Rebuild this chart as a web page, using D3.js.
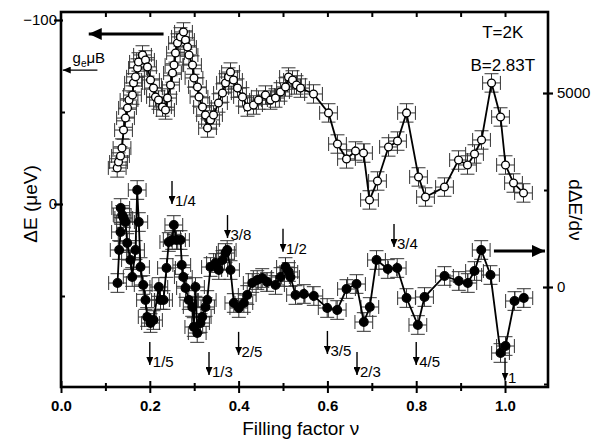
<!DOCTYPE html>
<html>
<head>
<meta charset="utf-8">
<script src="https://cdn.jsdelivr.net/npm/d3@7/dist/d3.min.js"></script>
<style>
  body { margin: 0; background: #fff; }
  svg { font-family: "Liberation Sans", Arial, Helvetica, sans-serif; }
</style>
</head>
<body>
<div id="chart"></div>
<script>
// open circles: energy gap ΔE (left axis, μeV)
const gapNu = [0.1266, 0.1295, 0.134, 0.1374, 0.1408, 0.1453, 0.1498, 0.1532, 0.161, 0.1633,
  0.1678, 0.1723, 0.1745, 0.1836, 0.1903, 0.1948, 0.2016, 0.2083, 0.2128, 0.2196,
  0.2286, 0.2354, 0.2399, 0.2466, 0.2511, 0.2545, 0.2579, 0.2624, 0.2691, 0.2759,
  0.2804, 0.2849, 0.2883, 0.2962, 0.2995, 0.3074, 0.3108, 0.3187, 0.3255, 0.33,
  0.3367, 0.3435, 0.3547, 0.3637, 0.3705, 0.3773, 0.3818, 0.3885, 0.3975, 0.4088,
  0.42, 0.4336, 0.4448, 0.4606, 0.4718, 0.4831, 0.4944, 0.5056, 0.5124, 0.5214,
  0.5304, 0.5394, 0.5687, 0.6025, 0.6227, 0.643, 0.6633, 0.6813, 0.6948, 0.7128,
  0.7376, 0.7579, 0.7782, 0.8052, 0.8209, 0.8637, 0.8953, 0.9155, 0.9313, 0.9471,
  0.9696, 0.9899, 1.0011, 1.0191, 1.0416];
const gapDE = [-19.6, -22.8, -26.1, -30.4, -40.2, -46.7, -52.2, -56.5, -59.2, -65.8,
  -69.1, -73.9, -77.2, -81.0, -78.3, -74.5, -67.4, -63.0, -58.2, -56.5,
  -52.7, -51.1, -57.6, -64.7, -71.2, -75.5, -82.1, -87.5, -90.8, -93.5,
  -89.1, -85.3, -81.0, -75.5, -68.5, -63.6, -58.2, -52.7, -48.4, -41.3,
  -45.7, -48.4, -54.9, -60.3, -65.8, -69.0, -71.7, -67.4, -63.0, -58.2,
  -52.7, -53.8, -56.5, -59.2, -56.5, -57.6, -60.9, -63.6, -69.0, -67.4,
  -64.7, -63.0, -59.8, -49.5, -32.6, -24.5, -28.8, -27.7, -2.2, -12.5,
  -31.0, -34.2, -49.5, -14.7, -3.8, -9.2, -23.9, -21.2, -27.2, -34.8,
  -65.8, -47.3, -21.2, -11.4, -6.0];

// filled circles: derivative dΔE/dν (right axis)
const slopeNu = [0.1273, 0.131, 0.134, 0.1345, 0.1378, 0.1414, 0.1453, 0.1491, 0.1565, 0.1604,
  0.1678, 0.1716, 0.1752, 0.1791, 0.1851, 0.1903, 0.1941, 0.2016, 0.2083, 0.2203,
  0.2241, 0.2309, 0.2376, 0.2428, 0.2505, 0.2541, 0.2601, 0.2691, 0.272, 0.2755,
  0.2804, 0.2878, 0.2955, 0.2991, 0.3029, 0.3068, 0.3142, 0.318, 0.3255, 0.3293,
  0.3367, 0.348, 0.3554, 0.3637, 0.3705, 0.3743, 0.3818, 0.3893, 0.4005, 0.4118,
  0.4194, 0.4307, 0.4419, 0.4532, 0.4644, 0.4831, 0.4944, 0.5056, 0.5131, 0.5169,
  0.5282, 0.5469, 0.5694, 0.5995, 0.6221, 0.643, 0.6655, 0.682, 0.6955, 0.7106,
  0.736, 0.7572, 0.7782, 0.8037, 0.8187, 0.8637, 0.8959, 0.9162, 0.9313, 0.9464,
  0.9673, 0.9899, 1.0011, 1.0214, 1.0424];
const slopeVal = [103, 954, 1418, 2036, 1856, 1778, 1675, 1134, 696, 258,
  954, 2500, 1675, 515, 52, -335, -773, -928, -851, 0,
  -335, -335, 490, 1160, 1211, 1598, 1211, 1211, 567, 258,
  -26, -335, -515, -1031, 0, -1186, -928, -773, -515, -335,
  515, 619, 438, 696, 876, 954, 438, -412, -541, -412,
  -206, 103, 180, 232, 129, 52, 258, 515, 387, 258,
  -206, -180, -232, -541, -593, -52, 77, -902, -515, 696,
  464, 490, -284, -979, -258, 284, 155, 103, 412, 954,
  309, -1701, -1521, -361, -284];

const nuErr = 0.02;
const gapErr = 5;
const slopeErr = 240;

const xTicks = [0.0, 0.2, 0.4, 0.6, 0.8, 1.0];
const leftTicks = [-100, 0];
const rightTicks = [5000, 0];

const fracLabels = ["1/5", "1/4", "1/3", "3/8", "2/5", "1/2", "3/5", "2/3", "3/4", "4/5", "1"];
const fracNu = [1 / 5, 1 / 4, 1 / 3, 3 / 8, 2 / 5, 1 / 2, 3 / 5, 2 / 3, 3 / 4, 4 / 5, 1];

const W = 605, H = 439;
const margin = { top: 12, right: 57, bottom: 52, left: 61 };
const width = W - margin.left - margin.right;
const height = H - margin.top - margin.bottom;

const svg = d3.select("#chart").append("svg")
  .attr("width", W).attr("height", H);

const defs = svg.append("defs");
function head(id, w, l) {
  defs.append("marker")
    .attr("id", id).attr("viewBox", `0 ${-w} ${l} ${2 * w}`)
    .attr("refX", l).attr("refY", 0)
    .attr("markerWidth", l).attr("markerHeight", 2 * w)
    .attr("markerUnits", "userSpaceOnUse")
    .attr("orient", "auto")
    .append("path").attr("d", `M0,${-w}L${l},0L0,${w}Z`).attr("fill", "#000");
}
head("big", 6, 13);
head("small", 3.5, 8);

const g = svg.append("g").attr("transform", `translate(${margin.left},${margin.top})`);

const x = d3.scaleLinear().domain([0, 1.0968]).range([0, width]);
const yL = d3.scaleLinear().domain([-104.35, 99.46]).range([0, height]);
const yR = d3.scaleLinear().domain([7088, -2577]).range([0, height]);

// axes: ticks straddle / point inward like the original
const xb = g.append("g").attr("transform", `translate(0,${height})`)
  .call(d3.axisBottom(x).tickValues(xTicks).tickFormat(d3.format(".1f")).tickSize(6).tickPadding(7));
xb.selectAll(".tick line").attr("y1", -6).attr("y2", 6).attr("stroke-width", 2);
xb.select(".domain").remove();
xb.selectAll("text").attr("font-size", 15).attr("font-weight", "bold").attr("font-family", null);

const xbMinor = g.append("g").attr("transform", `translate(0,${height})`)
  .call(d3.axisBottom(x).tickValues([0.1, 0.3, 0.5, 0.7, 0.9]).tickFormat("").tickSize(4));
xbMinor.selectAll(".tick line").attr("y1", -4).attr("y2", 4).attr("stroke-width", 2);
xbMinor.select(".domain").remove();

const xt = g.append("g")
  .call(d3.axisTop(x).tickValues(d3.range(1, 11).map(d => d / 10)).tickFormat("").tickSize(-5));
xt.selectAll(".tick line").attr("stroke-width", 2);
xt.select(".domain").remove();

const yl = g.append("g")
  .call(d3.axisLeft(yL).tickValues(leftTicks).tickFormat(d => d < 0 ? "\u2212" + Math.abs(d) : d).tickSize(-7).tickPadding(4));
yl.selectAll(".tick line").attr("x1", 2).attr("x2", -7).attr("stroke-width", 2.2);
yl.select(".domain").remove();
yl.selectAll("text").attr("font-size", 15).attr("font-family", null).attr("x", -4);

const ylMinor = g.append("g").call(d3.axisLeft(yL).tickValues([-50, 50]).tickFormat("").tickSize(-4));
ylMinor.selectAll(".tick line").attr("stroke-width", 2);
ylMinor.select(".domain").remove();

const yr = g.append("g").attr("transform", `translate(${width},0)`)
  .call(d3.axisRight(yR).tickValues(rightTicks).tickFormat(d3.format("d")).tickSize(5).tickPadding(4));
yr.selectAll(".tick line").attr("x1", -5).attr("x2", 5).attr("stroke-width", 2.2);
yr.select(".domain").remove();
yr.selectAll("text").attr("font-size", 15).attr("font-family", null).attr("x", 9);

const yrMinor = g.append("g").attr("transform", `translate(${width},0)`)
  .call(d3.axisRight(yR).tickValues([2500, -2500]).tickFormat("").tickSize(-4));
yrMinor.selectAll(".tick line").attr("stroke-width", 2);
yrMinor.select(".domain").remove();

g.append("rect").attr("width", width).attr("height", height)
  .attr("fill", "none").attr("stroke", "#000").attr("stroke-width", 2.6);

// data series with error crosses
function series(nu, vals, yS, dy, filled) {
  const pts = nu.map((n, i) => ({ n, v: vals[i] }));
  const cap = 7;
  const eb = g.append("g").attr("stroke", "#333").attr("stroke-width", 1).attr("fill", "none");
  pts.forEach(p => {
    const cx = x(p.n), cy = yS(p.v);
    const x0 = x(p.n - nuErr), x1 = x(p.n + nuErr);
    const y0 = yS(p.v - dy), y1 = yS(p.v + dy);
    eb.append("path").attr("d",
      `M${x0},${cy}H${x1}M${x0},${cy - cap}V${cy + cap}M${x1},${cy - cap}V${cy + cap}` +
      `M${cx},${y0}V${y1}M${cx - cap},${y0}H${cx + cap}M${cx - cap},${y1}H${cx + cap}`);
  });
  g.append("path").datum(pts)
    .attr("fill", "none").attr("stroke", "#000").attr("stroke-width", 1.8)
    .attr("d", d3.line().x(d => x(d.n)).y(d => yS(d.v)));
  g.append("g").selectAll("circle").data(pts).join("circle")
    .attr("cx", d => x(d.n)).attr("cy", d => yS(d.v))
    .attr("r", filled ? 4.3 : 3.9)
    .attr("fill", filled ? "#000" : "#fff")
    .attr("stroke", "#000").attr("stroke-width", 1.3);
}
series(gapNu, gapDE, yL, gapErr, false);
series(slopeNu, slopeVal, yR, slopeErr, true);

// fraction markers (arrow tip level given on the ΔE axis)
const fracTip = { "1/5": 87.5, "1/4": 0, "1/3": 93, "3/8": 18.5, "2/5": 82, "1/2": 26,
  "3/5": 81.5, "2/3": 93, "3/4": 23.4, "4/5": 87.5, "1": 96 };
fracLabels.forEach((lab, i) => {
  const ax = x(fracNu[i]), ty = yL(fracTip[lab]);
  g.append("line").attr("x1", ax).attr("x2", ax).attr("y1", ty - 23).attr("y2", ty)
    .attr("stroke", "#000").attr("stroke-width", 1.4).attr("marker-end", "url(#small)");
  g.append("text").attr("x", ax + 3).attr("y", ty + 2).attr("font-size", 15).text(lab);
});

// axis-assignment arrows
g.append("line").attr("x1", x(0.231)).attr("x2", x(0.0625)).attr("y1", yL(-92.4)).attr("y2", yL(-92.4))
  .attr("stroke", "#000").attr("stroke-width", 3).attr("marker-end", "url(#big)");
g.append("line").attr("x1", x(0.975)).attr("x2", x(1.09)).attr("y1", yR(930)).attr("y2", yR(930))
  .attr("stroke", "#000").attr("stroke-width", 3).attr("marker-end", "url(#big)");

// Zeeman energy marker
g.append("line").attr("x1", x(0.082)).attr("x2", x(0.004)).attr("y1", yL(-72.8)).attr("y2", yL(-72.8))
  .attr("stroke", "#000").attr("stroke-width", 1.3).attr("marker-end", "url(#small)");
const gz = g.append("text").attr("x", x(0.026)).attr("y", yL(-76.5)).attr("font-size", 15);
gz.append("tspan").text("g");
gz.append("tspan").attr("font-size", 10).attr("dy", 4).text("e");
gz.append("tspan").attr("dy", -4).text("\u03bcB");

g.append("text").attr("x", x(0.995)).attr("y", yL(-90)).attr("text-anchor", "middle")
  .attr("font-size", 17).text("T=2K");
g.append("text").attr("x", x(0.995)).attr("y", yL(-72.5)).attr("text-anchor", "middle")
  .attr("font-size", 17).text("B=2.83T");

// axis titles
svg.append("text").attr("transform", `translate(37,${margin.top + yL(0)}) rotate(-90)`)
  .attr("text-anchor", "middle").attr("font-size", 19).text("\u0394E (\u03bceV)");
svg.append("text").attr("transform", `translate(569,${margin.top + 198}) rotate(90)`)
  .attr("text-anchor", "middle").attr("font-size", 19).text("d\u0394E/d\u03bd");
svg.append("text").attr("x", margin.left + x(0.54)).attr("y", H - 4)
  .attr("text-anchor", "middle").attr("font-size", 19).text("Filling factor \u03bd");
</script>
</body>
</html>
